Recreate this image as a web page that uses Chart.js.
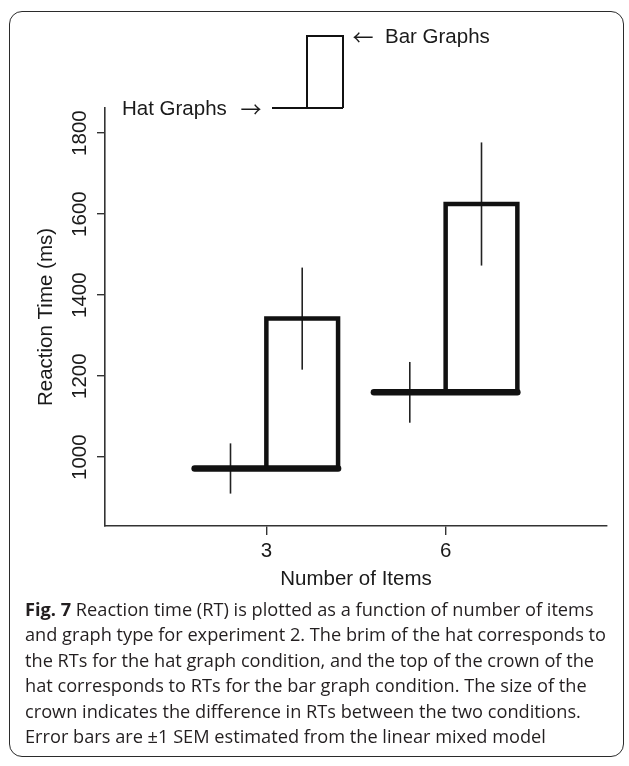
<!DOCTYPE html>
<html>
<head>
<meta charset="utf-8">
<script src="https://cdn.jsdelivr.net/npm/chart.js@4/dist/chart.umd.min.js"></script>
<style>
  html, body { margin: 0; padding: 0; background: #fff; }
  #wrap { position: relative; width: 629px; height: 766px; overflow: hidden; }
  #frame {
    position: absolute; left: 9px; top: 11px; width: 615px; height: 746px;
    box-sizing: border-box; border: 1.6px solid #2b2b2b; border-radius: 13px;
  }
  #chart { position: absolute; left: 0; top: 0; }
  #caption {
    position: absolute; left: 25px; top: 597px; width: 600px;
    font-family: "Open Sans", "Noto Sans", sans-serif; font-size: 18.2px;
    line-height: 25.4px; color: #231f20; white-space: nowrap;
  }
  #caption b { font-weight: 700; }
</style>
</head>
<body>
<div id="wrap">
  <div id="frame"></div>
  <canvas id="chart" width="629" height="766"></canvas>
  <div id="caption">
    <div><b>Fig. 7</b> Reaction time (RT) is plotted as a function of number of items</div>
    <div>and graph type for experiment 2. The brim of the hat corresponds to</div>
    <div>the RTs for the hat graph condition, and the top of the crown of the</div>
    <div>hat corresponds to RTs for the bar graph condition. The size of the</div>
    <div>crown indicates the difference in RTs between the two conditions.</div>
    <div>Error bars are ±1 SEM estimated from the linear mixed model</div>
  </div>
</div>
<script>
// Number of items shown per trial
const categories = ['3', '6'];
// Mean reaction times (ms)
const hatRT = [972, 1160];   // hat graph condition (brim)
const barRT = [1342, 1625];  // bar graph condition (top of crown)
// ±1 SEM from the linear mixed model (ms)
const hatSEM = [62, 75];
const barSEM = [126, 152];
// Y axis tick values
const yTicks = [1000, 1200, 1400, 1600, 1800];

const INK = '#111';
const AXIS = '#333';
const AXIS_FONT = '20.5px "Liberation Sans", Arial, Helvetica, sans-serif';
const ARROW_FONT = '21px "Noto Sans CJK SC", "DejaVu Sans", sans-serif';

const BRIM_HALF = 0.4;   // brim spans ±0.4 around the category position
const CROWN_W = 0.4;     // crown spans from the category position to +0.4

const datasets = [];
categories.forEach((c, i) => {
  const xc = i + 1;
  // brim: hat graph value
  datasets.push({
    data: [{x: xc - BRIM_HALF, y: hatRT[i]}, {x: xc + BRIM_HALF, y: hatRT[i]}],
    borderColor: INK, borderWidth: 6.5, borderCapStyle: 'round'
  });
  // crown: rises from the brim to the bar graph value
  datasets.push({
    data: [
      {x: xc, y: hatRT[i]}, {x: xc, y: barRT[i]},
      {x: xc + CROWN_W, y: barRT[i]}, {x: xc + CROWN_W, y: hatRT[i]}
    ],
    borderColor: INK, borderWidth: 4.5, borderJoinStyle: 'miter', borderCapStyle: 'butt'
  });
  // error bar for the hat condition
  datasets.push({
    data: [{x: xc - BRIM_HALF / 2, y: hatRT[i] - hatSEM[i]}, {x: xc - BRIM_HALF / 2, y: hatRT[i] + hatSEM[i]}],
    borderColor: '#222', borderWidth: 1.6
  });
  // error bar for the bar condition
  datasets.push({
    data: [{x: xc + CROWN_W / 2, y: barRT[i] - barSEM[i]}, {x: xc + CROWN_W / 2, y: barRT[i] + barSEM[i]}],
    borderColor: '#222', borderWidth: 1.6
  });
});

// Axis labels, axis titles and the hat/bar key
const annotations = {
  id: 'annotations',
  afterDraw(chart) {
    const {ctx, scales: {x, y}, chartArea} = chart;
    ctx.save();
    ctx.fillStyle = '#1a1a1a';
    ctx.font = AXIS_FONT;

    // y tick labels, reading bottom to top
    ctx.textAlign = 'center';
    ctx.textBaseline = 'alphabetic';
    yTicks.forEach(v => {
      ctx.save();
      ctx.translate(86, y.getPixelForValue(v));
      ctx.rotate(-Math.PI / 2);
      ctx.fillText(String(v), 0, 0);
      ctx.restore();
    });

    // y axis title
    ctx.save();
    ctx.translate(51.5, (chartArea.top + chartArea.bottom) / 2);
    ctx.rotate(-Math.PI / 2);
    ctx.fillText('Reaction Time (ms)', 0, 0);
    ctx.restore();

    // x tick labels
    categories.forEach((c, i) => {
      ctx.fillText(c, x.getPixelForValue(i + 1), 557);
    });

    // x axis title
    ctx.fillText('Number of Items', (chartArea.left + chartArea.right) / 2, 585);

    // key: a small hat
    ctx.strokeStyle = INK;
    ctx.lineWidth = 2;
    ctx.lineJoin = 'miter';
    ctx.beginPath();
    ctx.moveTo(272, 108); ctx.lineTo(343, 108);
    ctx.stroke();
    ctx.beginPath();
    ctx.moveTo(307, 108); ctx.lineTo(307, 36); ctx.lineTo(343, 36); ctx.lineTo(343, 108);
    ctx.stroke();

    ctx.textAlign = 'left';
    ctx.fillText('Hat Graphs', 122, 115);
    ctx.fillText('Bar Graphs', 385, 43);
    ctx.textAlign = 'center';
    ctx.textBaseline = 'middle';
    ctx.font = ARROW_FONT;
    ctx.fillText('\u2192', 251, 109);
    ctx.fillText('\u2190', 363, 37);
    ctx.restore();
  }
};

new Chart(document.getElementById('chart'), {
  type: 'line',
  data: { datasets },
  options: {
    responsive: false,
    animation: false,
    devicePixelRatio: 1,
    layout: { padding: { top: 108, right: 22, left: 0, bottom: 0 } },
    elements: { point: { radius: 0, hoverRadius: 0 }, line: { tension: 0, fill: false } },
    plugins: { legend: { display: false }, tooltip: { enabled: false } },
    events: [],
    scales: {
      x: {
        type: 'linear', min: 0.1, max: 2.9,
        afterBuildTicks: s => { s.ticks = categories.map((c, i) => ({ value: i + 1 })); },
        afterFit: s => { s.height = 240; },
        ticks: { display: false },
        grid: { drawOnChartArea: false, drawTicks: true, tickLength: 9, color: AXIS, lineWidth: 1.4 },
        border: { display: true, color: AXIS, width: 1.6 }
      },
      y: {
        type: 'linear', min: 830, max: 1862,
        afterBuildTicks: s => { s.ticks = yTicks.map(v => ({ value: v })); },
        afterFit: s => { s.width = 105; },
        ticks: { display: false },
        grid: { drawOnChartArea: false, drawTicks: true, tickLength: 8, color: AXIS, lineWidth: 1.4 },
        border: { display: true, color: AXIS, width: 1.6 }
      }
    }
  },
  plugins: [annotations]
});
</script>
</body>
</html>
